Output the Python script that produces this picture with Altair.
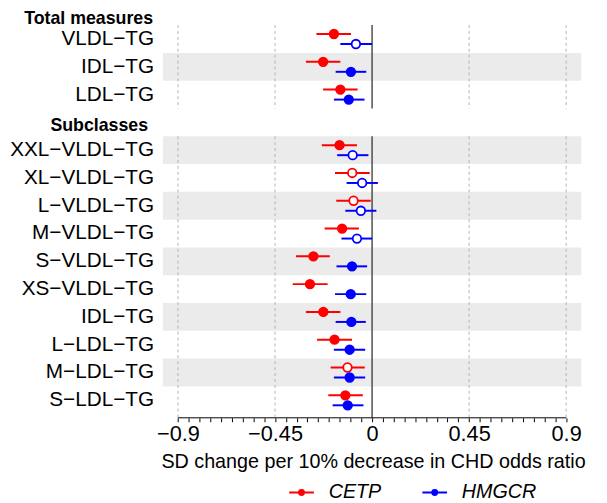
import altair as alt
import pandas as pd

FONT = "Liberation Sans"

# ---------------- data ----------------
group_headers = ["Total measures", "Subclasses"]
total_labels = ["VLDL−TG", "IDL−TG", "LDL−TG"]
sub_labels = ["XXL−VLDL−TG", "XL−VLDL−TG", "L−VLDL−TG", "M−VLDL−TG", "S−VLDL−TG",
              "XS−VLDL−TG", "IDL−TG", "L−LDL−TG", "M−LDL−TG", "S−LDL−TG"]
shade_total = [False, True, False]
shade_sub = [True, False, True, False, True, False, True, False, True, False]

genes = ["CETP", "HMGCR"]
gene_colors = ["#ff0000", "#0000ff"]

# order: total measures (3) then subclasses (10)
cetp_est = [-0.177, -0.227, -0.147, -0.151, -0.092, -0.086, -0.139, -0.272, -0.288, -0.226, -0.174, -0.114, -0.124]
cetp_lo = [-0.258, -0.307, -0.227, -0.233, -0.172, -0.166, -0.220, -0.353, -0.368, -0.307, -0.255, -0.192, -0.203]
cetp_hi = [-0.098, -0.147, -0.067, -0.070, -0.011, -0.006, -0.061, -0.196, -0.206, -0.147, -0.093, -0.034, -0.043]
cetp_sig = [True, True, True, True, False, False, True, True, True, True, True, False, True]

hmgcr_est = [-0.075, -0.098, -0.108, -0.090, -0.046, -0.052, -0.070, -0.093, -0.099, -0.096, -0.104, -0.104, -0.113]
hmgcr_lo = [-0.147, -0.169, -0.177, -0.162, -0.118, -0.124, -0.142, -0.165, -0.172, -0.169, -0.177, -0.177, -0.183]
hmgcr_hi = [0.000, -0.027, -0.035, -0.017, 0.027, 0.020, 0.000, -0.023, -0.027, -0.029, -0.032, -0.032, -0.040]
hmgcr_sig = [False, True, True, False, False, False, False, True, True, True, True, True, True]

tick_values = [-0.9, -0.85, -0.8, -0.75, -0.7, -0.65, -0.6, -0.55, -0.5, -0.45, -0.4, -0.35,
               -0.3, -0.25, -0.2, -0.15, -0.1, -0.05, 0, 0.05, 0.1, 0.15, 0.2, 0.25, 0.3,
               0.35, 0.4, 0.45, 0.5, 0.55, 0.6, 0.65, 0.7, 0.75, 0.8, 0.85, 0.9]
major_ticks = [-0.9, -0.45, 0, 0.45, 0.9]
dashed_grid = [-0.9, -0.45, 0.45, 0.9]
x_title = "SD change per 10% decrease in CHD odds ratio"

# ---------------- layout ----------------
W, H = 424, 398
Y_MIN, Y_MAX = 0.5, 14.63
X_DOM = [-0.97, 0.97]

rows_total = list(range(1, 1 + len(total_labels)))
sub_start = len(total_labels) + 2
rows_sub = list(range(sub_start, sub_start + len(sub_labels)))
all_rows = rows_total + rows_sub
all_labels = total_labels + sub_labels
all_shade = shade_total + shade_sub
header_rows = [0, len(total_labels) + 1]

rows_df = pd.DataFrame({"row": all_rows, "label": all_labels, "shade": all_shade})
band_df = rows_df[rows_df["shade"]].copy()

pts = []
for gene, est, lo, hi, sig in [("CETP", cetp_est, cetp_lo, cetp_hi, cetp_sig),
                               ("HMGCR", hmgcr_est, hmgcr_lo, hmgcr_hi, hmgcr_sig)]:
    for r, e, l, h, s in zip(all_rows, est, lo, hi, sig):
        pts.append({"row": r, "gene": gene, "est": e, "lo": l, "hi": h, "sig": s})
pts_df = pd.DataFrame(pts)

panels = [(rows_total[0] - 0.5, rows_total[-1] + 0.5), (rows_sub[0] - 0.5, Y_MAX)]
grid_df = pd.DataFrame([{"v": v, "ys": a, "ye": b} for (a, b) in panels for v in dashed_grid])
zero_df = pd.DataFrame([{"v": 0, "ys": a, "ye": b} for (a, b) in panels])
axisline_df = pd.DataFrame({"a": [major_ticks[0]], "b": [major_ticks[-1]]})

xs = alt.Scale(domain=X_DOM, nice=False, zero=False)
ys = alt.Scale(domain=[Y_MIN, Y_MAX], reverse=True, nice=False, zero=False)
cscale = alt.Scale(domain=genes, range=gene_colors)

y_calc = "datum.row + (datum.gene == '%s' ? -0.18 : 0.18)" % genes[0]
fill_calc = "datum.sig ? (datum.gene == '%s' ? '%s' : '%s') : 'white'" % (genes[0], gene_colors[0], gene_colors[1])

major_str = "[" + ",".join(str(v) for v in major_ticks) + "]"

X_AXIS = alt.Axis(
    values=tick_values, grid=False, domain=False, ticks=True, tickColor="black",
    tickSize=4, tickWidth=1,
    labelExpr="indexof(%s, datum.value) >= 0 ? format(datum.value, '~g') : ''" % major_str,
    labelOverlap=False, labelFlush=False, labelFont=FONT, labelFontSize=22,
    labelColor="black", labelPadding=2, titleFont=FONT, titleFontSize=20,
    titleFontWeight="normal", titleColor="black", titleX=-2, titleY=50,
    titleAlign="left", titleBaseline="alphabetic", titleAnchor="start")


def X(field):
    return alt.X(field, scale=xs, title=x_title, axis=X_AXIS)


# line with a dot (dot built from concentric rings so it looks solid)
legend_path = ("M-1,0L1,0"
               "M-0.2,0A0.2,0.2,0,1,1,0.2,0A0.2,0.2,0,1,1,-0.2,0Z"
               "M-0.12,0A0.12,0.12,0,1,1,0.12,0A0.12,0.12,0,1,1,-0.12,0Z"
               "M-0.05,0A0.05,0.05,0,1,1,0.05,0A0.05,0.05,0,1,1,-0.05,0Z")

bands = alt.Chart(band_df).transform_calculate(
    y0="datum.row - 0.5", y1="datum.row + 0.5"
).mark_rect(color="#ebebeb").encode(
    x=alt.value(0), x2=alt.value(W),
    y=alt.Y("y0:Q", scale=ys, axis=None), y2="y1:Q",
)

grid = alt.Chart(grid_df).mark_rule(color="#b3b3b3", strokeWidth=1, strokeDash=[3, 3]).encode(
    x=X("v:Q"),
    y=alt.Y("ys:Q", scale=ys, axis=None), y2="ye:Q",
)

zero = alt.Chart(zero_df).mark_rule(color="#333333", strokeWidth=1.3).encode(
    x=X("v:Q"),
    y=alt.Y("ys:Q", scale=ys, axis=None), y2="ye:Q",
)

axis_line = alt.Chart(axisline_df).mark_rule(color="black", strokeWidth=1).encode(
    x=X("a:Q"), x2="b:Q", y=alt.value(H),
)

ci = alt.Chart(pts_df).transform_calculate(yy=y_calc).mark_rule(strokeWidth=2).encode(
    x=X("lo:Q"),
    x2="hi:Q",
    y=alt.Y("yy:Q", scale=ys, axis=None),
    color=alt.Color("gene:N", scale=cscale, legend=alt.Legend(
        title=None, orient="none", legendX=127, legendY=460, direction="horizontal",
        symbolType=legend_path, symbolSize=625, symbolStrokeWidth=2, symbolOpacity=1,
        labelFont=FONT, labelFontSize=20, labelFontStyle="italic", labelColor="black",
        labelOffset=14, columnPadding=37, padding=0)),
)

points = alt.Chart(pts_df).transform_calculate(yy=y_calc, fillc=fill_calc).mark_point(
    filled=False, size=75, strokeWidth=1.8, opacity=1
).encode(
    x=X("est:Q"),
    y=alt.Y("yy:Q", scale=ys, axis=None),
    color=alt.Color("gene:N", scale=cscale),
    fill=alt.Fill("fillc:N", scale=None),
)

labels = alt.Chart(rows_df).mark_text(
    align="right", baseline="middle", font=FONT, fontSize=21, color="black"
).encode(
    x=alt.value(-9),
    y=alt.Y("row:Q", scale=ys, axis=None),
    text="label:N",
)

head1 = alt.Chart(pd.DataFrame({"row": [header_rows[0]], "label": [group_headers[0]]})).mark_text(
    align="right", baseline="alphabetic", font=FONT, fontSize=18, fontWeight="bold",
    color="black", dy=13.1
).encode(x=alt.value(-10), y=alt.Y("row:Q", scale=ys, axis=None), text="label:N")

head2 = alt.Chart(pd.DataFrame({"row": [header_rows[1]], "label": [group_headers[1]]})).mark_text(
    align="right", baseline="alphabetic", font=FONT, fontSize=18, fontWeight="bold",
    color="black", dy=8.4
).encode(x=alt.value(-15), y=alt.Y("row:Q", scale=ys, axis=None), text="label:N")

chart = alt.layer(bands, grid, zero, axis_line, ci, points, labels, head1, head2).properties(
    width=W, height=H,
    autosize=alt.AutoSizeParams(type="none"),
    padding={"left": 157, "top": 14, "right": 18, "bottom": 83},
).configure_view(stroke=None)

chart.save("out.html", embed_options={"renderer": "svg", "actions": False})
